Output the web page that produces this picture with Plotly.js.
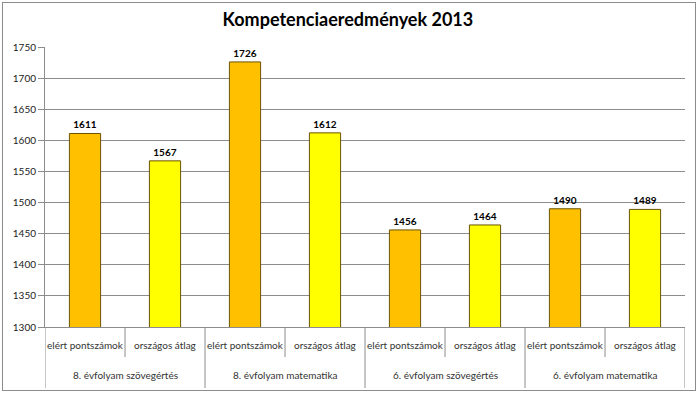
<!DOCTYPE html>
<html>
<head>
<meta charset="utf-8">
<script src="https://cdn.plot.ly/plotly-3.0.1.min.js"></script>
<style>
  html, body { margin: 0; padding: 0; background: #fff; }
  #wrap { position: relative; width: 700px; height: 395px; }
  #chart { width: 700px; height: 395px; }
  #frame { position: absolute; left: 2px; top: 2px; width: 694px; height: 389px;
           border: 1px solid #8c8c8c; pointer-events: none; box-sizing: border-box; }
</style>
</head>
<body>
<div id="wrap"><div id="chart"></div><div id="frame"></div></div>
<script>
const groups = ["8. évfolyam szövegértés", "8. évfolyam matematika", "6. évfolyam szövegértés", "6. évfolyam matematika"];
const subLabels = ["elért pontszámok", "országos átlag"];
const elert = [1611, 1726, 1456, 1490];
const atlag = [1567, 1612, 1464, 1489];
const yTicks = [1300, 1350, 1400, 1450, 1500, 1550, 1600, 1650, 1700, 1750];

const font = "Lato, 'Liberation Sans', sans-serif";
const xE = groups.map((g, i) => 2 * i);
const xA = groups.map((g, i) => 2 * i + 1);

function barTrace(xs, ys, name, color) {
  return {
    type: 'bar', x: xs, y: ys, name: name, width: 0.39,
    marker: { color: color, line: { color: '#6b5300', width: 1 } },
    text: ys.map(String), textposition: 'outside', cliponaxis: false,
    textfont: { family: font, size: 10, color: '#000', weight: 'bold' },
    hoverinfo: 'skip'
  };
}

const traces = [
  barTrace(xE, elert, subLabels[0], '#FFC000'),
  barTrace(xA, atlag, subLabels[1], '#FFFF00')
];

const plotH = 280;
const annotations = [];
const shapes = [];
groups.forEach((g, i) => {
  subLabels.forEach((s, j) => {
    annotations.push({ x: 2 * i + j, y: -18 / plotH, xref: 'x', yref: 'paper', text: s,
      showarrow: false, yanchor: 'middle', font: { family: font, size: 10, color: '#333' } });
  });
  annotations.push({ x: 2 * i + 0.5, y: -48 / plotH, xref: 'x', yref: 'paper', text: g,
    showarrow: false, yanchor: 'middle', font: { family: font, size: 10, color: '#333' } });
  shapes.push({ type: 'line', xref: 'x', yref: 'paper', x0: 2 * i - 0.5, x1: 2 * i - 0.5,
    y0: 0, y1: -61 / plotH, line: { color: '#8c8c8c', width: 1 } });
  shapes.push({ type: 'line', xref: 'x', yref: 'paper', x0: 2 * i + 0.5, x1: 2 * i + 0.5,
    y0: 0, y1: -30 / plotH, line: { color: '#8c8c8c', width: 1 } });
});
shapes.push({ type: 'line', xref: 'x', yref: 'paper', x0: 2 * groups.length - 0.5, x1: 2 * groups.length - 0.5,
  y0: 0, y1: -61 / plotH, line: { color: '#8c8c8c', width: 1 } });

const layout = {
  width: 700, height: 395,
  margin: { l: 45, r: 15, t: 47, b: 68 },
  paper_bgcolor: '#fff', plot_bgcolor: '#fff',
  showlegend: false,
  barmode: 'overlay',
  title: { text: 'Kompetenciaeredmények 2013', x: 0.497, xanchor: 'center', y: 0.95, yanchor: 'middle',
    font: { family: font, size: 18, color: '#000', weight: 'bold' } },
  xaxis: { range: [-0.5, 2 * groups.length - 0.5], showticklabels: false, showgrid: false,
    zeroline: false, showline: true, linecolor: '#8c8c8c', linewidth: 1, ticks: '', fixedrange: true },
  yaxis: { range: [1300, 1750], tickvals: yTicks, ticktext: yTicks.map(String),
    showgrid: true, gridcolor: '#8c8c8c', gridwidth: 1, zeroline: false,
    showline: true, linecolor: '#8c8c8c', linewidth: 1, ticks: 'outside', ticklen: 6,
    tickcolor: '#8c8c8c', tickfont: { family: font, size: 10, color: '#222' }, fixedrange: true },
  annotations: annotations,
  shapes: shapes
};

Plotly.newPlot('chart', traces, layout, { staticPlot: true, displayModeBar: false });
</script>
</body>
</html>
